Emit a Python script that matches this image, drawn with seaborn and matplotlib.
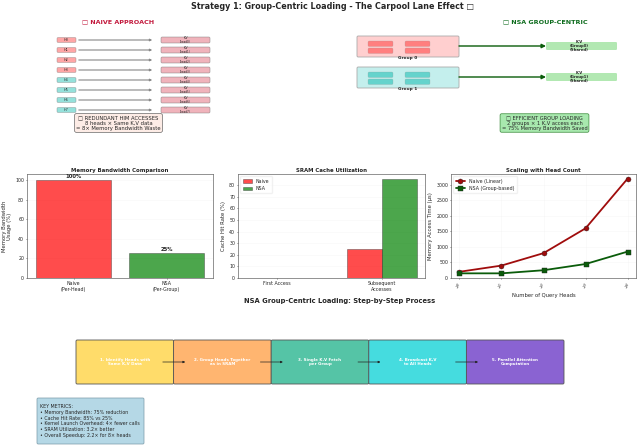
import matplotlib
matplotlib.use("Agg")
import matplotlib.pyplot as plt
import seaborn as sns
import pandas as pd
from matplotlib.patches import FancyBboxPatch

W, H = 640, 446

# chart values
band_labels = ["Naive\n(Per-Head)", "NSA\n(Per-Group)"]
band_values = [100, 25]
cache_labels = ["First Access", "Subsequent\nAccesses"]
cache_naive = [0, 25]
cache_nsa = [0, 85]
head_counts = [1, 2, 4, 8, 16]
time_naive = [200, 400, 800, 1600, 3200]
time_nsa = [150, 150, 250, 450, 850]

head_labels = ["H0", "H1", "H2", "H3", "H4", "H5", "H6", "H7"]
group_names = ["Group 0", "Group 1"]
step_labels = [
    "1. Identify Heads with\nSame K,V Data",
    "2. Group Heads Together\nas in SRAM",
    "3. Single K,V Fetch\nper Group",
    "4. Broadcast K,V\nto All Heads",
    "5. Parallel Attention\nComputation",
]
step_colors = ["#ffdc6a", "#ffb570", "#55c4a6", "#45dcdf", "#8a63d2"]
metrics = ("KEY METRICS:\n"
           "• Memory Bandwidth: 75% reduction\n"
           "• Cache Hit Rate: 85% vs 25%\n"
           "• Kernel Launch Overhead: 4× fewer calls\n"
           "• SRAM Utilization: 3.2× better\n"
           "• Overall Speedup: 2.2× for 8× heads")

RED = "#ff6b6b"
TEAL = "#4ecdc4"

sns.set_style("white")
plt.rcParams["font.family"] = ["DejaVu Sans"]
plt.rcParams["axes.linewidth"] = 0.5
plt.rcParams["axes.edgecolor"] = "#666666"

fig = plt.figure(figsize=(W / 100, H / 100), dpi=100)


def panel(left, top, right, bottom):
    a = fig.add_axes([left / W, 1 - bottom / H, (right - left) / W, (bottom - top) / H])
    a.tick_params(labelsize=3.4, length=1, width=0.4, pad=1, bottom=True, left=True)
    a.grid(True, axis="y", alpha=0.15, lw=0.4)
    a.set_axisbelow(True)
    return a


def box(x0, y0, x1, y1, fc, ec="#777777", lw=0.4, alpha=1.0, z=2):
    bg.add_patch(FancyBboxPatch((x0, y0), x1 - x0, y1 - y0, boxstyle="round,pad=0,rounding_size=1.2",
                                fc=fc, ec=ec, lw=lw, alpha=alpha, zorder=z))


# canvas in pixels for the diagrams
bg = fig.add_axes([0, 0, 1, 1])
bg.set_xlim(0, W)
bg.set_ylim(H, 0)
bg.axis("off")

bg.text(332, 6.5, "Strategy 1: Group-Centric Loading - The Carpool Lane Effect □", ha="center", va="center",
        fontsize=5.8, fontweight="bold")
bg.text(118, 22, "□ NAIVE APPROACH", ha="center", va="center", fontsize=4.6, fontweight="bold", color="#c2183c")
bg.text(545, 22, "□ NSA GROUP-CENTRIC", ha="center", va="center", fontsize=4.6, fontweight="bold", color="#0c6b1c")

# naive side, one row per head
for i, name in enumerate(head_labels):
    y = 40 + i * 10
    c = RED if i < 4 else TEAL
    box(57, y - 2.5, 76, y + 2.5, c, alpha=0.6)
    bg.text(66.5, y, name, ha="center", va="center", fontsize=2.4)
    bg.annotate("", xy=(155, y), xytext=(76, y),
                arrowprops=dict(arrowstyle="-|>", color="#888888", lw=0.8, mutation_scale=3))
    box(161, y - 3, 210, y + 3, "#eb9aa5", alpha=0.75)
    bg.text(185.5, y, f"K,V\n(head{i})", ha="center", va="center", fontsize=2.0, linespacing=1.0)

bg.text(118.5, 123, "□ REDUNDANT HIM ACCESSES\n8 heads × Same K,V data\n= 8× Memory Bandwidth Waste",
        ha="center", va="center", fontsize=3.8, linespacing=1.05,
        bbox=dict(boxstyle="round,pad=0.3", fc="#fdece6", ec="#444444", lw=0.4))

# nsa side, one row per group
for g, name in enumerate(group_names):
    y0 = 36 + g * 31
    c = RED if g == 0 else TEAL
    pale = "#ffcfcf" if g == 0 else "#c4efed"
    box(357, y0, 459, y0 + 21, pale, ec="#aaaaaa", lw=0.6)
    for x0 in [368, 405]:
        for dy in [5, 12]:
            box(x0, y0 + dy, x0 + 25, y0 + dy + 5.5, c, ec="#999999", lw=0.2, alpha=0.8, z=3)
    bg.text(408, y0 + 22, name, ha="center", va="center", fontsize=3.1, fontweight="bold")
    bg.annotate("", xy=(546, y0 + 10), xytext=(459, y0 + 10),
                arrowprops=dict(arrowstyle="-|>", color="#0a5c0a", lw=1.0, mutation_scale=6, shrinkA=0, shrinkB=0))
    box(546, y0 + 6, 617, y0 + 14, "#b2e8b2", ec="none")
    bg.text(579, y0 + 10, f"K,V\n(Group{g})\n(Shared)", ha="center", va="center", fontsize=2.7,
            fontweight="bold", linespacing=1.0, zorder=4)

bg.text(544.5, 123, "□ EFFICIENT GROUP LOADING\n2 groups × 1 K,V access each\n= 75% Memory Bandwidth Saved",
        ha="center", va="center", fontsize=3.7, linespacing=1.05,
        bbox=dict(boxstyle="round,pad=0.3", fc="#a8e8ae", ec="#3a8a3a", lw=0.5))

# memory bandwidth
ax1 = panel(27, 174, 213, 278)
sns.barplot(x=band_labels, y=band_values, hue=band_labels, palette=["red", "green"], alpha=0.7, saturation=1,
            width=0.8, edgecolor="#333333", linewidth=0.4, legend=False, ax=ax1)
ax1.set_ylim(0, 106)
ax1.set_xlim(-0.5, 1.5)
ax1.set_title("Memory Bandwidth Comparison", fontsize=3.9, fontweight="bold", pad=1.5)
ax1.set_ylabel("Memory Bandwidth\nUsage (%)", fontsize=3.8, labelpad=2)
for i, v in enumerate(band_values):
    ax1.text(i, v + 1, f"{v}%", ha="center", va="bottom", fontsize=3.8, fontweight="bold")

# sram cache
cache_df = pd.DataFrame({
    "access": cache_labels * 2,
    "rate": cache_naive + cache_nsa,
    "approach": ["Naive"] * 2 + ["NSA"] * 2,
})
ax2 = panel(238, 174, 425, 278)
sns.barplot(data=cache_df, x="access", y="rate", hue="approach", palette=["red", "green"], alpha=0.7, saturation=1,
            width=0.66, edgecolor="#333333", linewidth=0.4, ax=ax2)
ax2.set_xlim(-0.371, 1.41)
ax2.set_ylim(0, 89.5)
ax2.set_yticks(range(0, 90, 10))
ax2.set_title("SRAM Cache Utilization", fontsize=3.9, fontweight="bold", pad=1.5)
ax2.set_xlabel("")
ax2.set_ylabel("Cache Hit Rate (%)", fontsize=3.8, labelpad=2)
ax2.legend(loc="upper left", fontsize=3.4, title=None, frameon=True, edgecolor="#eeeeee", handlelength=2, borderpad=0.5)

# scaling
scale_df = pd.DataFrame({
    "heads": head_counts * 2,
    "time": time_naive + time_nsa,
    "approach": ["Naive (Linear)"] * 5 + ["NSA (Group-based)"] * 5,
})
ax3 = panel(451, 174, 636, 278)
sns.lineplot(data=scale_df, x="heads", y="time", hue="approach", style="approach", palette=["#a00c0c", "#0a5c0a"],
             markers=["o", "s"], dashes=False, lw=1.3, ms=3.6, markeredgecolor="#222222", markeredgewidth=0.3, ax=ax3)
ax3.set_xscale("log", base=2)
ax3.set_xticks(head_counts)
ax3.set_ylim(0, 3350)
ax3.tick_params(axis="x", labelrotation=45, labelsize=3.2)
ax3.grid(True, which="major", axis="both", alpha=0.15, lw=0.4)
ax3.set_title("Scaling with Head Count", fontsize=3.9, fontweight="bold", pad=1.5)
ax3.set_xlabel("Number of Query Heads", fontsize=3.8, labelpad=1)
ax3.set_ylabel("Memory Access Time (μs)", fontsize=3.8, labelpad=2)
ax3.legend(loc="upper left", fontsize=3.4, title=None, frameon=True, edgecolor="#eeeeee", handlelength=2, borderpad=0.5)

# step by step row
bg.text(340, 301, "NSA Group-Centric Loading: Step-by-Step Process", ha="center", va="center",
        fontsize=4.9, fontweight="bold")
for i, (label, c) in enumerate(zip(step_labels, step_colors)):
    x0 = 76 + i * 97.6
    box(x0, 340, x0 + 97.6, 384, c, ec="#555555", lw=0.6)
    bg.text(x0 + 48.8, 362, label, ha="center", va="center", color="white", fontsize=2.9,
            fontweight="bold", linespacing=1.1, zorder=4)
    if i < 4:
        bg.annotate("", xy=(x0 + 112, 362), xytext=(x0 + 84, 362), zorder=5,
                    arrowprops=dict(arrowstyle="-|>", color="#222222", lw=0.5, mutation_scale=3))

box(37, 398, 144, 444, "#b5d8e6", ec="#7a9aa8", lw=0.5)
bg.text(39.5, 421, metrics, ha="left", va="center", fontsize=3.45, linespacing=1.18, zorder=4)

fig.savefig("out.png", dpi=100)
